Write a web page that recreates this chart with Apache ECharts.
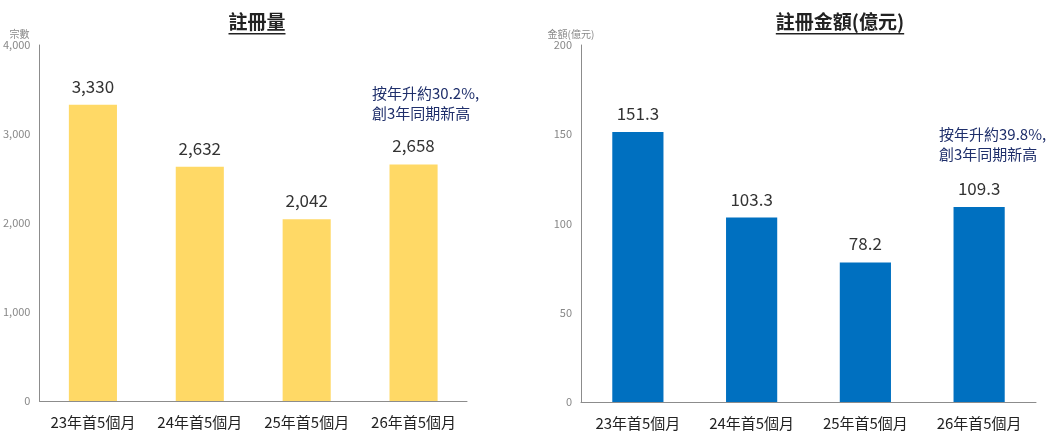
<!doctype html>
<html>
    <head>
        <meta charset="utf-8">
        <title>註冊量 / 註冊金額</title>
        <style>
            html, body { margin: 0; padding: 0; background: #fff; }
            #main { width: 1063px; height: 447px; }
        </style>
    </head>
    <body>
        <div id="main"></div>
        <script src="https://cdn.jsdelivr.net/npm/echarts@6/dist/echarts.min.js"></script>
        <script>
            var categories = ['23年首5個月', '24年首5個月', '25年首5個月', '26年首5個月'];
            var countValues = [3330, 2632, 2042, 2658];
            var amountValues = [151.3, 103.3, 78.2, 109.3];
            var countTicks = { min: 0, max: 4000, interval: 1000 };
            var amountTicks = { min: 0, max: 200, interval: 50 };
            var leftTitle = '註冊量';
            var rightTitle = '註冊金額(億元)';
            var leftNote = '按年升約30.2%,\n創3年同期新高';
            var rightNote = '按年升約39.8%,\n創3年同期新高';

            var FONT = '"Noto Sans CJK TC", "Noto Sans", sans-serif';

            var chart = echarts.init(document.getElementById('main'), null, {
                devicePixelRatio: 1
            });

            // width of a title, for its underline
            var measure = document.createElement('canvas').getContext('2d');
            function textWidth(str, font) {
                measure.font = font;
                return measure.measureText(str).width;
            }

            function titleGraphic(str, cx) {
                var font = 'bold 19px ' + FONT;
                var w = textWidth(str, font);
                return {
                    type: 'group',
                    children: [{
                        type: 'text',
                        x: cx,
                        y: 12,
                        style: {
                            text: str,
                            font: font,
                            fill: '#222',
                            align: 'center',
                            verticalAlign: 'top'
                        }
                    }, {
                        type: 'rect',
                        shape: { x: cx - w / 2, y: 33, width: w, height: 1.5 },
                        style: { fill: '#222' }
                    }]
                };
            }

            function noteGraphic(str, x, y) {
                return {
                    type: 'text',
                    x: x,
                    y: y,
                    style: {
                        text: str,
                        font: '15px ' + FONT,
                        fill: '#1F2F6B',
                        lineHeight: 20,
                        verticalAlign: 'top'
                    }
                };
            }

            function xAxisOpt(gridIndex) {
                return {
                    type: 'category',
                    gridIndex: gridIndex,
                    data: categories,
                    axisLine: { lineStyle: { color: '#8c8c8c', width: 1 } },
                    axisTick: { show: false },
                    axisLabel: { color: '#222', fontSize: 15, fontFamily: FONT, margin: 14, interval: 0 }
                };
            }

            function yAxisOpt(gridIndex, ticks, name, shift, fmt) {
                return {
                    type: 'value',
                    gridIndex: gridIndex,
                    min: ticks.min,
                    max: ticks.max,
                    interval: ticks.interval,
                    name: name,
                    nameLocation: 'end',
                    nameGap: 6,
                    nameTextStyle: {
                        color: '#888',
                        fontSize: 10,
                        fontFamily: FONT,
                        align: 'center',
                        padding: [0, shift, 0, 0]
                    },
                    axisLine: { show: true, lineStyle: { color: '#8c8c8c', width: 1 } },
                    axisTick: { show: false },
                    splitLine: { show: false },
                    axisLabel: { color: '#888', fontSize: 11, fontFamily: FONT, margin: 9, formatter: fmt }
                };
            }

            function barSeries(idx, values, color, fmt) {
                return {
                    type: 'bar',
                    xAxisIndex: idx,
                    yAxisIndex: idx,
                    data: values,
                    barWidth: '45%',
                    itemStyle: { color: color },
                    label: {
                        show: true,
                        position: 'top',
                        distance: 10,
                        color: '#333',
                        fontSize: 17,
                        fontFamily: FONT,
                        formatter: function (p) { return fmt(p.value); }
                    }
                };
            }

            var thousands = function (v) { return echarts.format.addCommas(v); };
            var oneDecimal = function (v) { return v.toFixed(1); };
            var plain = function (v) { return String(v); };

            chart.setOption({
                backgroundColor: '#fff',
                animation: false,
                grid: [
                    { left: 35, top: 45, width: 432, height: 356 },
                    { left: 581, top: 45, width: 455, height: 357 }
                ],
                xAxis: [xAxisOpt(0), xAxisOpt(1)],
                yAxis: [
                    yAxisOpt(0, countTicks, '宗數', 40, thousands),
                    yAxisOpt(1, amountTicks, '金額(億元)', 20, plain)
                ],
                series: [
                    barSeries(0, countValues, '#FFD966', thousands),
                    barSeries(1, amountValues, '#0070C0', oneDecimal)
                ],
                graphic: [
                    titleGraphic(leftTitle, 257),
                    titleGraphic(rightTitle, 840),
                    noteGraphic(leftNote, 372, 83),
                    noteGraphic(rightNote, 939, 124)
                ]
            });

            window.onresize = chart.resize;
        </script>
    </body>
</html>
